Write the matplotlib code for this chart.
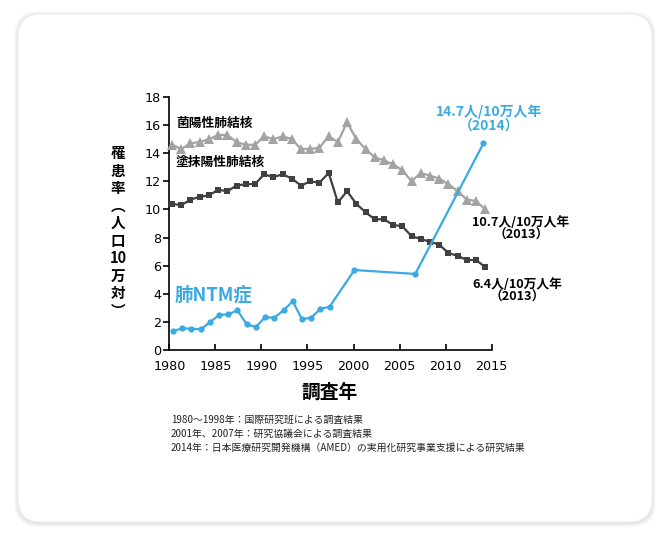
import numpy as np
import matplotlib
matplotlib.use("Agg")
import matplotlib.pyplot as plt
from matplotlib.patches import FancyBboxPatch

plt.rcParams['font.family'] = ['Noto Sans CJK JP', 'DejaVu Sans']

# 菌陽性肺結核 (triangles), 1980-2014 annual points
tb_years = list(range(1980, 2015))
tb_culture = [14.6, 14.3, 14.7, 14.8, 15.0, 15.3, 15.3, 14.8, 14.6, 14.6,
              15.2, 15.0, 15.2, 15.0, 14.3, 14.3, 14.4, 15.2, 14.8, 16.2,
              15.0, 14.3, 13.7, 13.5, 13.2, 12.8, 12.0, 12.6, 12.4, 12.2,
              11.8, 11.3, 10.7, 10.6, 10.0]
# 塗抹陽性肺結核 (squares)
tb_smear = [10.4, 10.3, 10.7, 10.9, 11.0, 11.4, 11.3, 11.7, 11.8, 11.8,
            12.5, 12.3, 12.5, 12.2, 11.7, 12.0, 11.9, 12.6, 10.5, 11.3,
            10.4, 9.8, 9.3, 9.3, 8.9, 8.8, 8.1, 7.9, 7.7, 7.5,
            6.9, 6.7, 6.4, 6.4, 5.9]
# 肺NTM症 (circles)
ntm_years = [1980.4, 1981.4, 1982.4, 1983.4, 1984.4, 1985.4, 1986.4, 1987.4,
             1988.4, 1989.4, 1990.4, 1991.4, 1992.4, 1993.4, 1994.4, 1995.4,
             1996.4, 1997.4, 2000.1, 2006.7, 2014.1]
ntm = [1.35, 1.54, 1.52, 1.47, 1.97, 2.49, 2.54, 2.82, 1.83, 1.64,
       2.33, 2.30, 2.82, 3.47, 2.19, 2.30, 2.92, 3.08, 5.69, 5.41, 14.7]

footnotes = ["1980～1998年：国際研究班による調査結果",
             "2001年、2007年：研究協議会による調査結果",
             "2014年：日本医療研究開発機構（AMED）の実用化研究事業支援による研究結果"]

W, H = 670, 544
fig = plt.figure(figsize=(W / 100, H / 100), dpi=100)
fig.patch.set_facecolor('white')

def fx(px):
    return px / W

def fy(py):
    return 1 - py / H

# card with soft shadow
for i, a in enumerate([0.02, 0.025, 0.03, 0.035]):
    g = 4 - i
    sh = FancyBboxPatch((fx(18 - g), fy(522 + g + 1)), fx(634 + 2 * g), (508 + 2 * g) / H,
                        boxstyle="round,pad=0,rounding_size=0.035",
                        transform=fig.transFigure, facecolor='black', alpha=a,
                        edgecolor='none', mutation_aspect=W / H, zorder=-10)
    fig.patches.append(sh)
card = FancyBboxPatch((fx(18), fy(522)), fx(634), 508 / H,
                      boxstyle="round,pad=0,rounding_size=0.035",
                      transform=fig.transFigure, facecolor='white',
                      edgecolor='#f0f0f0', linewidth=0.8, mutation_aspect=W / H,
                      zorder=-5)
fig.patches.append(card)

ax = fig.add_axes([fx(169.3), fy(350), fx(491.7) - fx(169.3), (350 - 97) / H])
ax.set_facecolor('none')
ax.set_zorder(2)

x_tb = np.array(tb_years) + 0.3
ax.plot(x_tb, tb_culture, color='#a3a3a3', lw=1.6, marker='^', ms=6.5,
        markeredgewidth=0, zorder=3, clip_on=False)
ax.plot(x_tb, tb_smear, color='#404040', lw=1.6, marker='s', ms=5,
        markeredgewidth=0, zorder=3, clip_on=False)
ax.plot(ntm_years, ntm, color='#3aaae2', lw=1.6, marker='o', ms=4.5,
        markeredgewidth=0, zorder=4, clip_on=False)

ax.set_xlim(1980, 2015)
ax.set_ylim(0, 18)
ax.set_xticks(range(1980, 2016, 5))
ax.set_yticks(range(0, 19, 2))
for s in ['top', 'right']:
    ax.spines[s].set_visible(False)
for s in ['left', 'bottom']:
    ax.spines[s].set_linewidth(1.2)
ax.tick_params(axis='x', direction='in', length=4, width=1.2, labelsize=9.2,
               pad=7)
ax.tick_params(axis='y', direction='out', length=4, width=1.2, labelsize=9.2,
               pad=2)
for lab in ax.get_xticklabels() + ax.get_yticklabels():
    lab.set_fontfamily('DejaVu Sans')

# axis titles
fig.text(fx(330), fy(392), "調査年", ha='center', va='center',
         fontsize=13.5, fontweight='bold')
fig.text(fx(118), fy(232), "罹\n患\n率\n︵\n人\n口\n10\n万\n対\n︶",
         ha='center', va='center', fontsize=10.5, fontweight='bold',
         linespacing=1.12)

# series labels
fig.text(fx(176), fy(123), "菌陽性肺結核", ha='left', va='center',
         fontsize=9.2, fontweight='bold')
fig.text(fx(176), fy(162), "塗抹陽性肺結核", ha='left', va='center',
         fontsize=9.2, fontweight='bold')
fig.text(fx(175), fy(295), "肺NTM症", ha='left', va='center',
         fontsize=13.3, fontweight='bold', color='#3aaae2')

fig.text(fx(489), fy(119), "14.7人/10万人年\n（2014）", ha='center',
         va='center', fontsize=10, fontweight='bold', color='#3aaae2',
         linespacing=1.0)
fig.text(fx(521), fy(229), "10.7人/10万人年\n（2013）", ha='center',
         va='center', fontsize=9.2, fontweight='bold', linespacing=0.95)
fig.text(fx(517), fy(291), "6.4人/10万人年\n（2013）", ha='center',
         va='center', fontsize=9.2, fontweight='bold', linespacing=0.95)

for i, t in enumerate(footnotes):
    fig.text(fx(171), fy(420 + 14 * i), t, ha='left', va='center',
             fontsize=7.1, color='#222222')

fig.savefig("out.png", dpi=100)
